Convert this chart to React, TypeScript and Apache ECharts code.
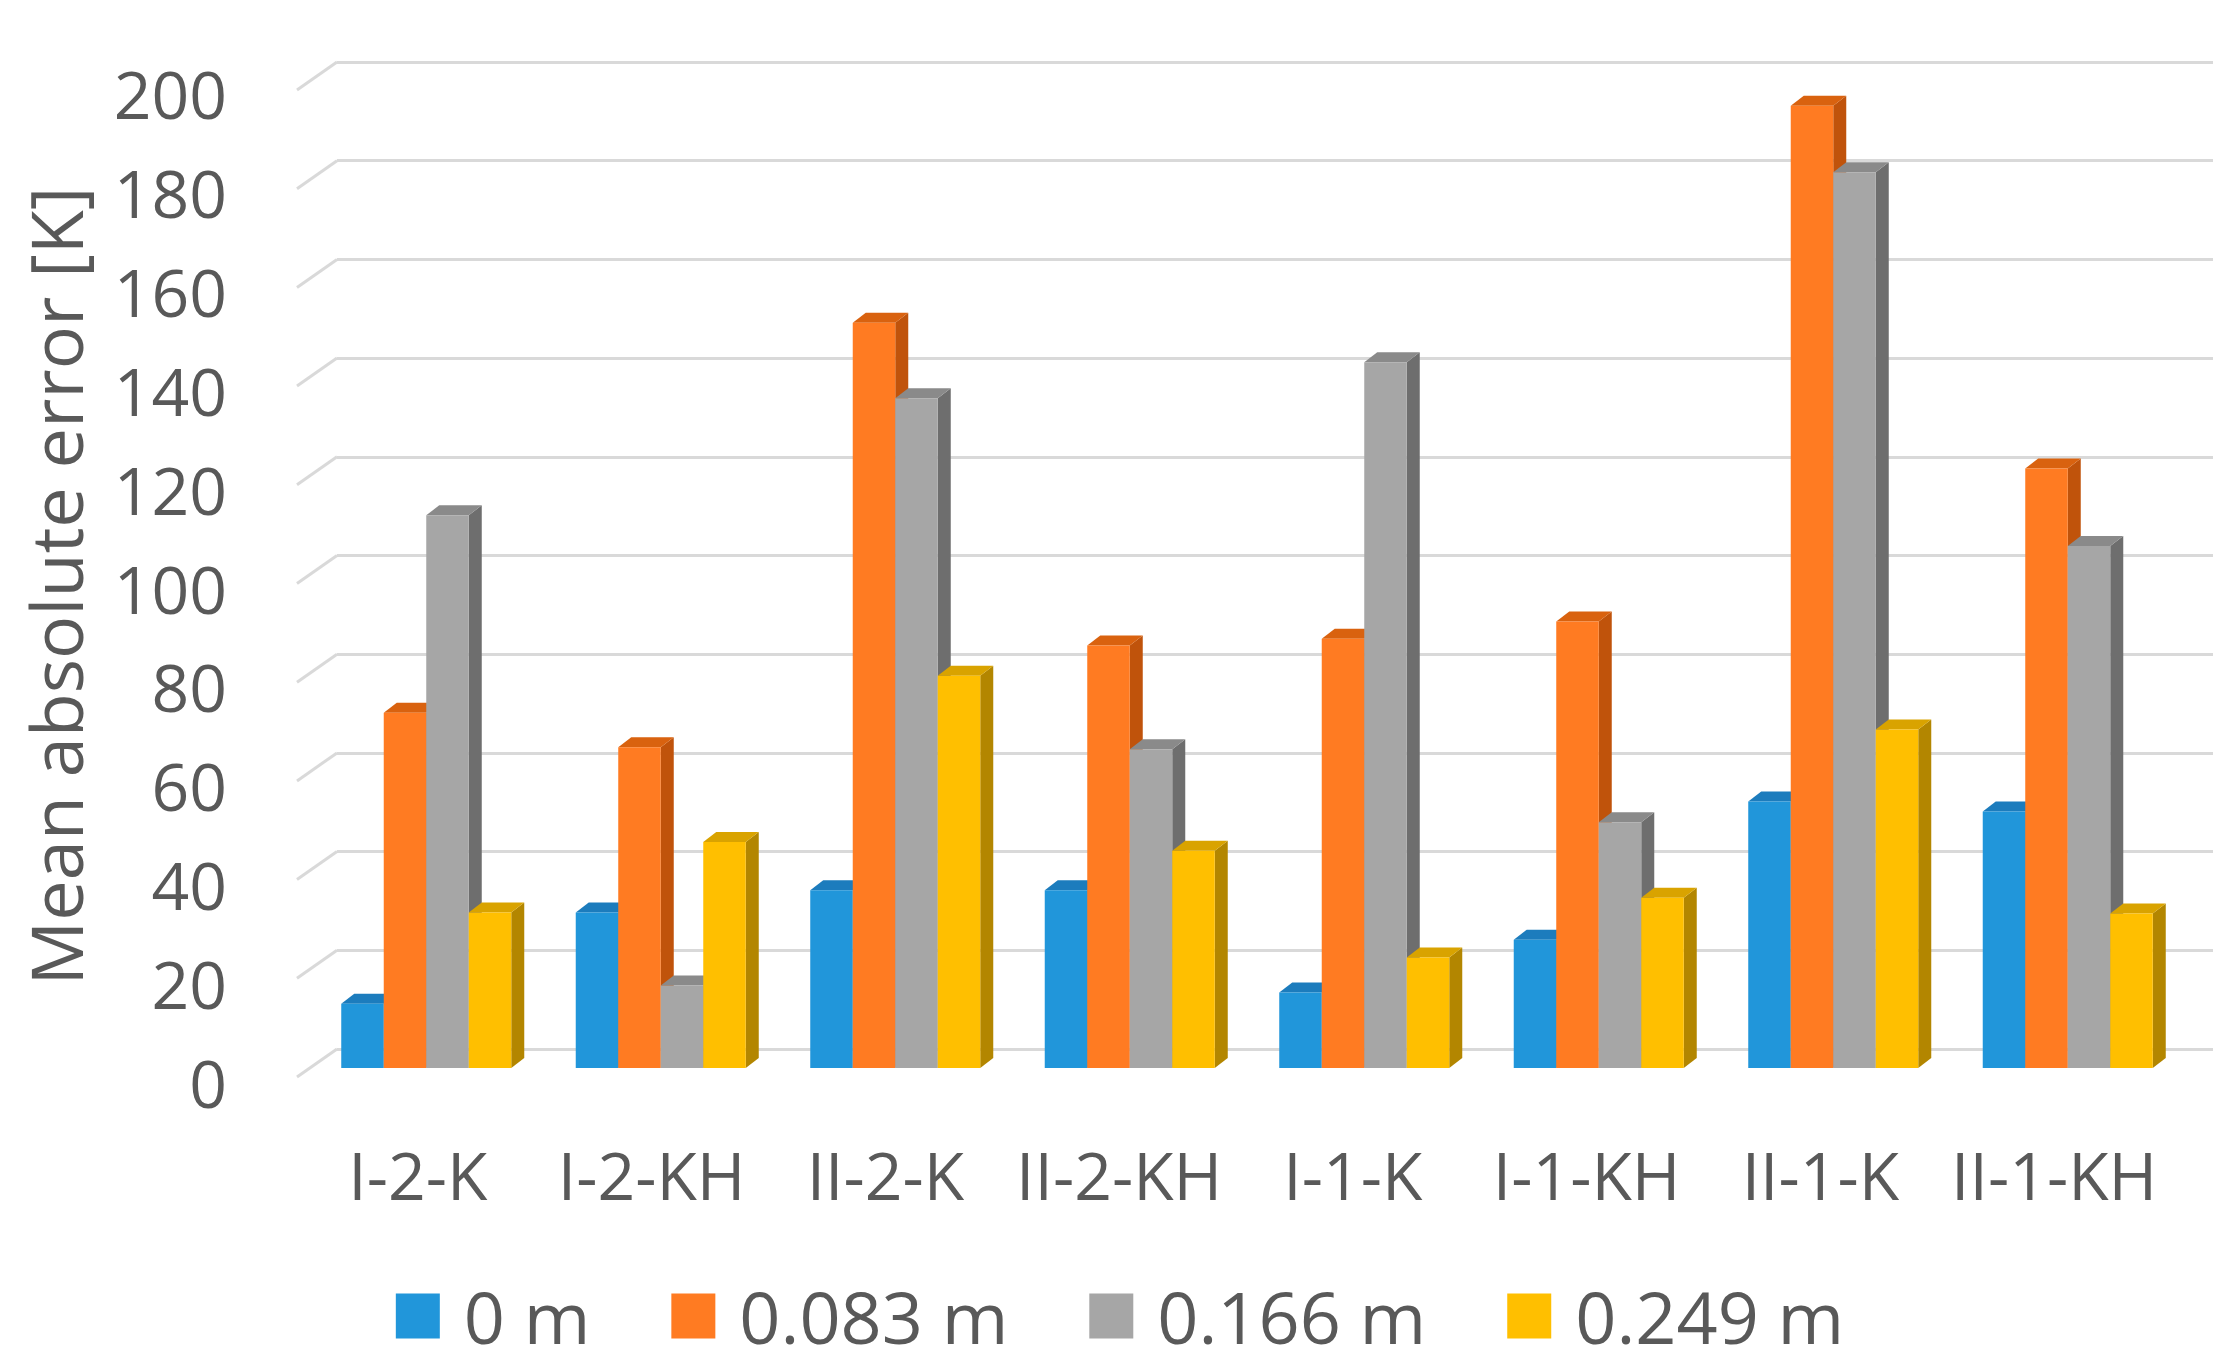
import React, { useEffect, useRef } from "react";
import * as echarts from "echarts";

const categories = ["I-2-K", "I-2-KH", "II-2-K", "II-2-KH", "I-1-K", "I-1-KH", "II-1-K", "II-1-KH"];
const seriesNames = ["0 m", "0.083 m", "0.166 m", "0.249 m"];
const s0m = [13, 31.5, 36, 36, 15.3, 26, 54, 52];
const s083 = [72, 65, 151, 85.6, 87, 90.5, 195, 121.5];
const s166 = [112, 16.7, 135.7, 64.6, 143, 49.8, 181.5, 105.8];
const s249 = [31.5, 45.8, 79.5, 44, 22.4, 34.5, 68.6, 31.3];
const yTicks = [0, 20, 40, 60, 80, 100, 120, 140, 160, 180, 200];

const frontColors = ["#2196DA", "#FF7B22", "#A6A6A6", "#FFBF00"];
const topColors = ["#1C7CBD", "#D9620F", "#8A8A8A", "#D9A300"];
const sideColors = ["#1A6EA6", "#C0530B", "#6E6E6E", "#B38600"];

const FONT = "'Open Sans', 'Noto Sans', sans-serif";
const TXT = "#595959";
const GRID_COLOR = "#D9D9D9";

export default function App() {
  const ref = useRef<HTMLDivElement>(null);
  useEffect(() => {
    if (!ref.current) return;
    const chart = echarts.init(ref.current, null, { renderer: "svg" });
    const values = [s0m, s083, s166, s249];
    const DX = 13;
    const DY = -10;

    const barSeries = values.map((arr, si) => ({
      type: "custom",
      name: seriesNames[si],
      xAxisIndex: 1,
      yAxisIndex: 1,
      z: 3 + si,
      itemStyle: { color: frontColors[si] },
      encode: { x: 0, y: 1 },
      data: arr.map((v, i) => [i, v]),
      renderItem: (params: any, api: any) => {
        const cat = api.value(0);
        const v = api.value(1);
        const base = api.coord([cat, 0]);
        const top = api.coord([cat, v]);
        const band = api.size([1, 0])[0];
        const bw = (band * 0.725) / 4;
        const x0 = base[0] - 2 * bw + si * bw;
        const x1 = x0 + bw;
        const yb = base[1];
        const yt = top[1];
        return {
          type: "group",
          children: [
            {
              type: "polygon",
              shape: { points: [[x1, yt], [x1 + DX, yt + DY], [x1 + DX, yb + DY], [x1, yb]] },
              style: { fill: sideColors[si] },
            },
            {
              type: "polygon",
              shape: { points: [[x0, yt], [x0 + DX, yt + DY], [x1 + DX, yt + DY], [x1, yt]] },
              style: { fill: topColors[si] },
            },
            {
              type: "rect",
              shape: { x: x0, y: yt, width: bw, height: yb - yt },
              style: { fill: frontColors[si] },
            },
          ],
        };
      },
    }));

    const option: any = {
      animation: false,
      backgroundColor: "#ffffff",
      grid: [
        { left: 337, right: 27, top: 62, bottom: 318 },
        { left: 309, right: 55, top: 81, bottom: 299 },
        { left: 301, right: 69, top: 93, bottom: 285 },
      ],
      xAxis: [
        { type: "value", gridIndex: 0, min: 0, max: 1, show: false },
        { type: "category", gridIndex: 1, data: categories, show: false },
        {
          type: "category",
          gridIndex: 2,
          data: categories,
          axisLine: { show: false },
          axisTick: { show: false },
          axisLabel: {
            margin: 59,
            fontSize: 66,
            lineHeight: 66,
            fontFamily: FONT,
            color: TXT,
            interval: 0,
          },
        },
      ],
      yAxis: [
        {
          type: "value",
          gridIndex: 0,
          min: 0,
          max: 200,
          interval: 20,
          axisLine: { show: false },
          axisTick: { show: false },
          axisLabel: { show: false },
          splitLine: { show: true, lineStyle: { color: GRID_COLOR, width: 3 } },
        },
        {
          type: "value",
          gridIndex: 1,
          min: 0,
          max: 200,
          interval: 20,
          show: false,
          splitLine: { show: false },
        },
        {
          type: "value",
          gridIndex: 2,
          min: 0,
          max: 200,
          interval: 20,
          axisLine: { show: false },
          axisTick: { show: false },
          splitLine: { show: false },
          axisLabel: {
            margin: 74,
            fontSize: 66,
            fontFamily: FONT,
            color: TXT,
          },
        },
      ],
      legend: {
        data: seriesNames,
        left: "center",
        top: 1279,
        padding: 0,
        itemWidth: 44,
        itemHeight: 45,
        itemGap: 81,
        icon: "rect",
        textStyle: {
          fontSize: 72,
          lineHeight: 74,
          fontFamily: FONT,
          color: TXT,
          padding: [0, 0, 0, 19],
        },
      },
      graphic: [
        {
          type: "text",
          x: 55,
          y: 586,
          rotation: Math.PI / 2,
          style: {
            text: "Mean absolute error [K]",
            align: "center",
            verticalAlign: "middle",
            fontSize: 72,
            fontFamily: FONT,
            fill: TXT,
          },
        },
      ],
      series: [
        {
          type: "custom",
          name: "stubs",
          xAxisIndex: 0,
          yAxisIndex: 0,
          z: 1,
          silent: true,
          encode: { x: 0, y: 1 },
          data: yTicks.map((t) => [0, t]),
          renderItem: (params: any, api: any) => {
            const p = api.coord([0, api.value(1)]);
            return {
              type: "line",
              shape: { x1: p[0] - 40, y1: p[1] + 28, x2: p[0], y2: p[1] },
              style: { stroke: GRID_COLOR, lineWidth: 3 },
            };
          },
        },
        ...barSeries,
      ],
    };
    chart.setOption(option);
    return () => chart.dispose();
  }, []);
  return <div ref={ref} style={{ position: "absolute", left: 0, top: 0, width: 2240, height: 1367 }} />;
}
